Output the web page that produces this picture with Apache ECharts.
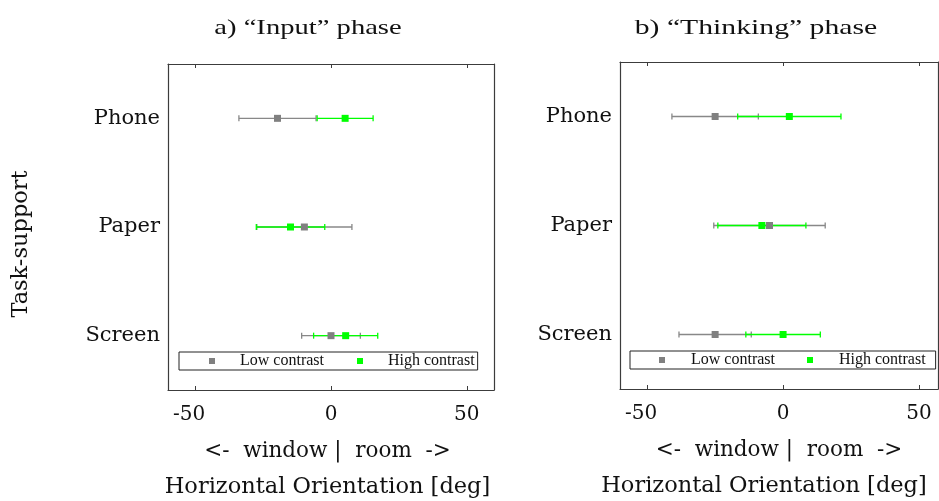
<!DOCTYPE html>
<html>
<head>
<meta charset="utf-8">
<script src="https://cdn.jsdelivr.net/npm/echarts@6/dist/echarts.min.js"></script>
<style>
  html, body { margin: 0; padding: 0; background: #fff; }
  #chart { width: 939px; height: 501px; }
</style>
</head>
<body>
<div id="chart"></div>
<script>
// categories (bottom → top) and x tick labels
const cats = ['Screen', 'Paper', 'Phone'];
const xTicks = [-50, 0, 50];

// a) "Input" phase: mean and half error per category
const inLowMean = [0, -9.8, -19.7];
const inLowErr = [10.8, 17.5, 14.2];
const inHighMean = [5.4, -14.9, 5.2];
const inHighErr = [11.8, 12.6, 10.3];

// b) "Thinking" phase
const thLowMean = [-25, -5, -25];
const thLowErr = [13.3, 20.5, 15.9];
const thHighMean = [0, -7.8, 2.3];
const thHighErr = [13.7, 16.2, 19];

const GRAY = '#808080';
const GREEN = '#00ff00';
const FRAME = '#3c3c3c';
const SERIF = '"DejaVu Serif", serif';

const chart = echarts.init(document.getElementById('chart'));

// 误差棒：横线 + 两端短竖线
function errRender(params, api) {
  const y = api.value(0), lo = api.value(1), hi = api.value(2);
  const p1 = api.coord([lo, y]);
  const p2 = api.coord([hi, y]);
  const h = 3;
  const style = { stroke: api.visual('color'), lineWidth: 1.3 };
  return {
    type: 'group',
    children: [
      { type: 'line', shape: { x1: p1[0], y1: p1[1], x2: p2[0], y2: p2[1] }, style },
      { type: 'line', shape: { x1: p1[0], y1: p1[1] - h, x2: p1[0], y2: p1[1] + h }, style },
      { type: 'line', shape: { x1: p2[0], y1: p2[1] - h, x2: p2[0], y2: p2[1] + h }, style },
    ],
  };
}

const errData = (mean, err) => mean.map((m, i) => [i, m - err[i], m + err[i]]);
const ptData = (mean) => mean.map((m, i) => [m, i]);

const frameLine = { show: true, onZero: false, lineStyle: { color: FRAME, width: 1.2 } };

function xAxes(gridIndex, xMax, namePad, bPad) {
  return [
    {
      gridIndex, type: 'value', position: 'bottom', min: -60, max: xMax,
      axisLine: frameLine,
      axisTick: { show: true, inside: true, length: 4, customValues: xTicks, lineStyle: { color: FRAME } },
      axisLabel: {
        customValues: xTicks, margin: 15, fontFamily: SERIF, fontSize: 20, color: '#111',
        formatter: v => (v < 0 ? '{n|' + v + '}' : String(v)),
        rich: { n: { fontFamily: SERIF, fontSize: 20, color: '#111', padding: [0, 12, 0, 0] } },
      },
      splitLine: { show: false },
      name: '{a|<-  window |  room  ->}\n{b|Horizontal Orientation [deg]}',
      nameLocation: 'middle', nameGap: 43,
      nameTextStyle: {
        padding: namePad,
        rich: {
          a: { fontFamily: SERIF, fontSize: 21.5, lineHeight: 36, color: '#111' },
          b: { fontFamily: SERIF, fontSize: 22.5, lineHeight: 36, color: '#111', padding: [0, bPad, 0, 0] },
        },
      },
    },
    {
      gridIndex, type: 'value', position: 'top', min: -60, max: xMax,
      axisLine: frameLine,
      axisTick: { show: true, inside: true, length: 4, customValues: xTicks, lineStyle: { color: FRAME } },
      axisLabel: { show: false }, splitLine: { show: false },
    },
  ];
}

function yAxes(gridIndex, name) {
  return [
    {
      gridIndex, type: 'category', data: cats, position: 'left',
      axisLine: frameLine,
      axisTick: { inside: true, length: 4, alignWithLabel: true, lineStyle: { color: FRAME } },
      axisLabel: { margin: 8, fontFamily: SERIF, fontSize: 21, color: '#111' },
      name: name, nameLocation: 'middle', nameGap: 135, nameRotate: 90,
      nameTextStyle: { fontFamily: SERIF, fontSize: 22.5, color: '#111', padding: [0, 34, 0, 0] },
    },
    {
      gridIndex, type: 'category', data: cats, position: 'right',
      axisLine: frameLine,
      axisTick: { inside: true, length: 4, alignWithLabel: true, lineStyle: { color: FRAME } },
      axisLabel: { show: false },
    },
  ];
}

function legend(left, top, padding, gap, textPad) {
  return {
    left, top,
    data: ['Low contrast', 'High contrast'],
    icon: 'rect', itemWidth: 6, itemHeight: 6, itemGap: gap,
    padding, borderColor: '#222', borderWidth: 1, backgroundColor: '#fff',
    textStyle: { fontFamily: '"Liberation Serif", serif', fontSize: 16, color: '#111', padding: [0, 0, 0, textPad] },
    selectedMode: false,
  };
}

function panelSeries(xi, yi, lowMean, lowErr, highMean, highErr) {
  return [
    { name: 'lowErr', type: 'custom', xAxisIndex: xi, yAxisIndex: yi, renderItem: errRender,
      itemStyle: { color: '#888' }, encode: { x: [1, 2], y: 0 }, data: errData(lowMean, lowErr), z: 2 },
    { name: 'highErr', type: 'custom', xAxisIndex: xi, yAxisIndex: yi, renderItem: errRender,
      itemStyle: { color: GREEN }, encode: { x: [1, 2], y: 0 }, data: errData(highMean, highErr), z: 3 },
    { name: 'Low contrast', type: 'scatter', xAxisIndex: xi, yAxisIndex: yi, symbol: 'rect', symbolSize: 7,
      itemStyle: { color: GRAY, opacity: 1 }, data: ptData(lowMean), z: 4 },
    { name: 'High contrast', type: 'scatter', xAxisIndex: xi, yAxisIndex: yi, symbol: 'rect', symbolSize: 7,
      itemStyle: { color: GREEN, opacity: 1 }, data: ptData(highMean), z: 5 },
  ];
}

const titleFont = '22px "Liberation Serif", serif';

chart.setOption({
  animation: false,
  backgroundColor: '#fff',
  grid: [
    { left: 168, top: 64, width: 326, height: 326, outerBoundsMode: 'none' },
    { left: 620, top: 62, width: 318, height: 327, outerBoundsMode: 'none' },
  ],
  // 右图在原图中被裁切，右边框约在 57 处
  xAxis: [...xAxes(0, 60, [0, 7, 0, 0], 0), ...xAxes(1, 57, [0, 0, 0, 0], 30)],
  yAxis: [...yAxes(0, 'Task-support'), ...yAxes(1, '')],
  legend: [
    legend(179, 352, [1, 3, 1, 30], 33, 20),
    legend(630, 351, [1, 10, 1, 29], 32, 21),
  ],
  graphic: [
    { type: 'text', x: 308, y: 28, scaleX: 1.3,
      style: { text: 'a) “Input” phase', font: titleFont, fill: '#111', textAlign: 'center', textVerticalAlign: 'middle' } },
    { type: 'text', x: 756, y: 28, scaleX: 1.35,
      style: { text: 'b) “Thinking” phase', font: titleFont, fill: '#111', textAlign: 'center', textVerticalAlign: 'middle' } },
  ],
  series: [
    ...panelSeries(0, 0, inLowMean, inLowErr, inHighMean, inHighErr),
    ...panelSeries(2, 2, thLowMean, thLowErr, thHighMean, thHighErr),
  ],
});
</script>
</body>
</html>
